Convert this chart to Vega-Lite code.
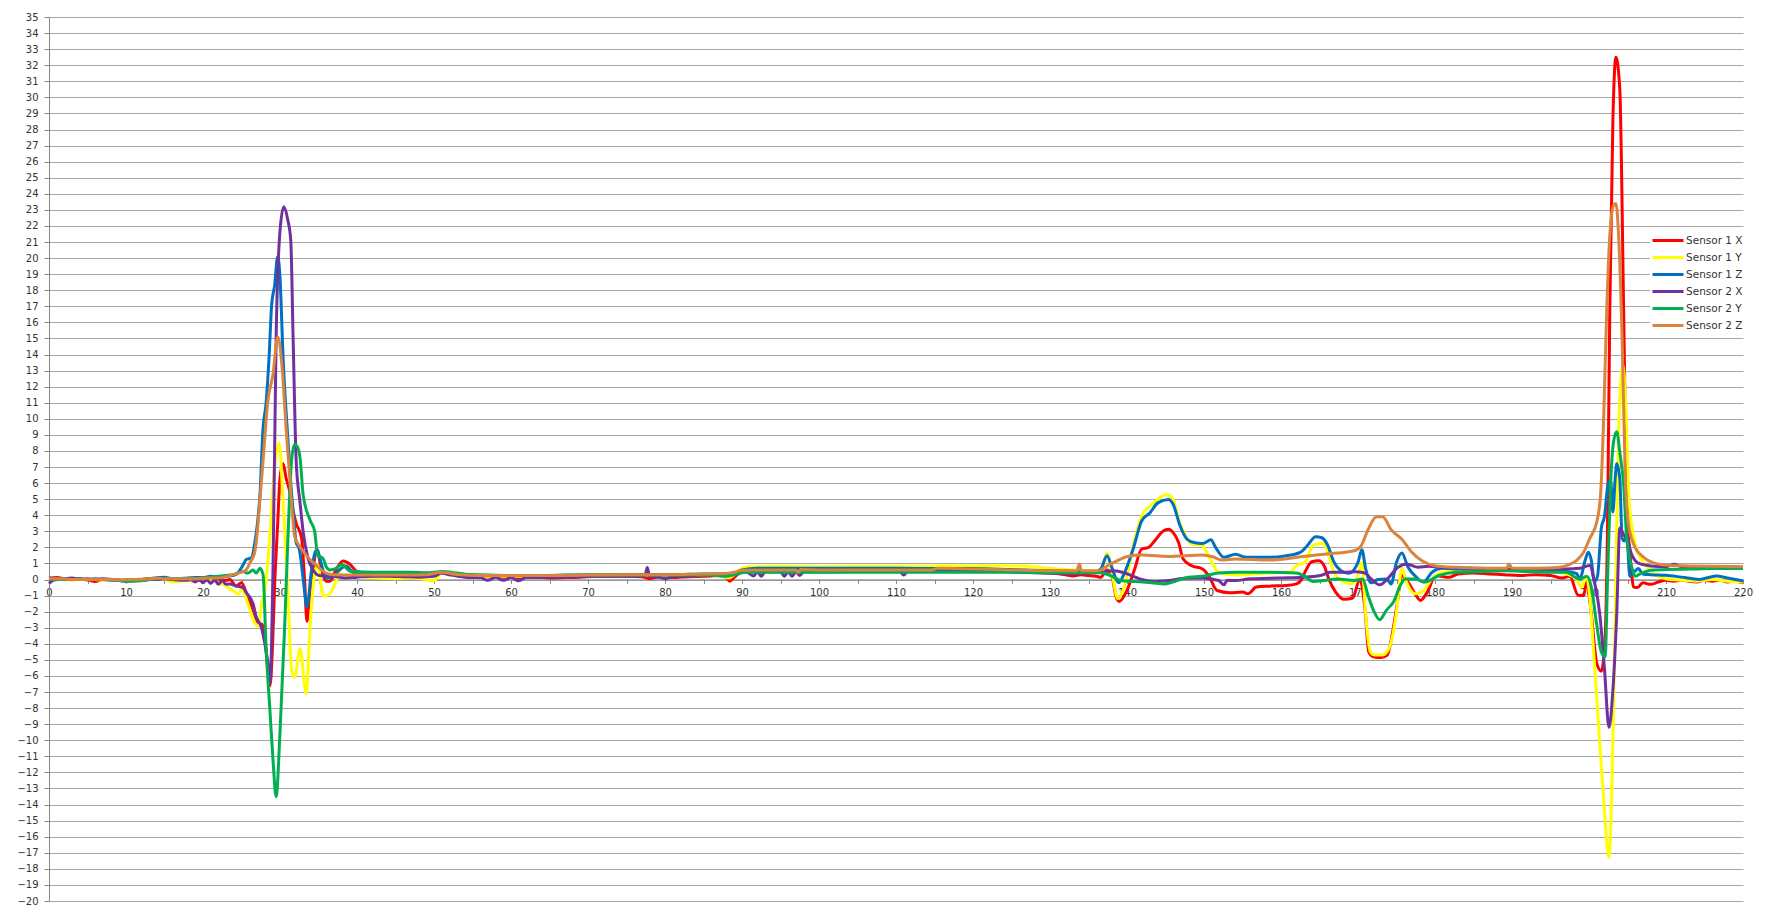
{
  "$schema": "https://vega.github.io/schema/vega-lite/v6.json",
  "width": 1694,
  "height": 884,
  "autosize": {"type": "none"},
  "padding": {"left": 49, "top": 17, "right": 24, "bottom": 9},
  "background": "white",
  "config": {
    "view": {"stroke": null},
    "font": "DejaVu Sans",
    "axis": {
      "labelFont": "DejaVu Sans",
      "labelFontSize": 10,
      "labelColor": "#333333",
      "domainColor": "#868686",
      "tickColor": "#868686",
      "title": null
    }
  },
  "datasets": {
    "s1x": [
      {"t":0,"v":0.08},{"t":1,"v":0.12},{"t":2,"v":0.05},{"t":3,"v":0},{"t":4,"v":0.05},{"t":5,"v":-0.02},{"t":6,"v":-0.12},{"t":7,"v":0.02},{"t":8,"v":0},{"t":9,"v":-0.05},{"t":10,"v":-0.1},{"t":11,"v":-0.05},{"t":12,"v":-0.08},{"t":13,"v":0},{"t":14,"v":0.05},{"t":15,"v":0.05},{"t":16,"v":0},{"t":17,"v":0.03},{"t":18,"v":-0.02},{"t":19,"v":-0.1},{"t":20,"v":0.05},{"t":21,"v":-0.1},{"t":22,"v":-0.05},{"t":23,"v":-0.05},{"t":23.5,"v":0},{"t":24.3,"v":-0.4},{"t":25,"v":-0.2},{"t":25.6,"v":-0.8},{"t":26.5,"v":-1.9},{"t":27.2,"v":-2.7},{"t":27.7,"v":-2.8},{"t":28,"v":-3.5},{"t":28.4,"v":-5.5},{"t":28.7,"v":-6.6},{"t":29,"v":-4.5},{"t":29.3,"v":-0.4},{"t":29.7,"v":3.5},{"t":30,"v":6.3},{"t":30.4,"v":7.2},{"t":30.8,"v":6.3},{"t":31.2,"v":5.6},{"t":31.6,"v":4.5},{"t":32.1,"v":3.5},{"t":32.8,"v":2.6},{"t":33.2,"v":-0.1},{"t":33.5,"v":-2.6},{"t":33.8,"v":-1.2},{"t":34.1,"v":-0.1},{"t":34.8,"v":1.8},{"t":35.4,"v":0.6},{"t":36,"v":-0.1},{"t":36.5,"v":-0.1},{"t":37.3,"v":0.63},{"t":38.2,"v":1.15},{"t":39.1,"v":0.94},{"t":39.9,"v":0.53},{"t":41.2,"v":0.38},{"t":43,"v":0.3},{"t":45,"v":0.25},{"t":47,"v":0.2},{"t":49,"v":0.22},{"t":51,"v":0.4},{"t":53,"v":0.3},{"t":55,"v":0.2},{"t":57,"v":0.18},{"t":59,"v":0.15},{"t":61,"v":0.12},{"t":63,"v":0.15},{"t":65,"v":0.1},{"t":67,"v":0.12},{"t":69,"v":0.15},{"t":71,"v":0.2},{"t":73,"v":0.2},{"t":75,"v":0.2},{"t":77,"v":0.18},{"t":78,"v":0.05},{"t":79,"v":0.15},{"t":81,"v":0.12},{"t":83,"v":0.18},{"t":85,"v":0.2},{"t":87,"v":0.25},{"t":88,"v":0.1},{"t":88.4,"v":-0.1},{"t":88.8,"v":0.05},{"t":89.5,"v":0.35},{"t":90.5,"v":0.5},{"t":93,"v":0.5},{"t":96,"v":0.52},{"t":100,"v":0.55},{"t":104,"v":0.55},{"t":108,"v":0.55},{"t":112,"v":0.56},{"t":116,"v":0.56},{"t":120,"v":0.55},{"t":124,"v":0.52},{"t":128,"v":0.45},{"t":130,"v":0.4},{"t":132,"v":0.3},{"t":133,"v":0.22},{"t":134,"v":0.3},{"t":135,"v":0.25},{"t":136,"v":0.2},{"t":136.6,"v":0.14},{"t":137.4,"v":0.6},{"t":138,"v":0.3},{"t":138.6,"v":-1.1},{"t":139,"v":-1.36},{"t":139.9,"v":-0.78},{"t":141,"v":0.66},{"t":141.9,"v":1.9},{"t":142.8,"v":2},{"t":143.6,"v":2.41},{"t":144.7,"v":3.02},{"t":145.4,"v":3.13},{"t":146,"v":2.92},{"t":146.7,"v":2.3},{"t":147.3,"v":1.28},{"t":148.4,"v":0.86},{"t":149.8,"v":0.66},{"t":150.6,"v":0.25},{"t":151.7,"v":-0.68},{"t":153.3,"v":-0.82},{"t":155,"v":-0.78},{"t":155.7,"v":-0.88},{"t":156.8,"v":-0.47},{"t":158.5,"v":-0.41},{"t":160.7,"v":-0.37},{"t":162,"v":-0.27},{"t":162.7,"v":0.04},{"t":163.1,"v":0.45},{"t":164,"v":1.11},{"t":164.9,"v":1.17},{"t":165.6,"v":0.86},{"t":166.2,"v":0.04},{"t":167.1,"v":-0.78},{"t":168.2,"v":-1.23},{"t":169.3,"v":-1.15},{"t":170.2,"v":-0.06},{"t":170.9,"v":-1.8},{"t":171.4,"v":-4.5},{"t":172,"v":-4.8},{"t":173,"v":-4.85},{"t":173.8,"v":-4.7},{"t":174.3,"v":-3.8},{"t":175,"v":-1.8},{"t":175.7,"v":0.25},{"t":176.5,"v":-0.16},{"t":177.4,"v":-0.88},{"t":178.1,"v":-1.3},{"t":179,"v":-0.78},{"t":180.1,"v":0.25},{"t":181.8,"v":0.14},{"t":183,"v":0.35},{"t":185,"v":0.4},{"t":187,"v":0.35},{"t":189,"v":0.3},{"t":191,"v":0.25},{"t":193,"v":0.3},{"t":195,"v":0.25},{"t":196.5,"v":0.1},{"t":197.5,"v":0.2},{"t":198.6,"v":-0.98},{"t":199.3,"v":-1},{"t":199.7,"v":-0.13},{"t":200.3,"v":-2.15},{"t":201,"v":-5.2},{"t":201.6,"v":-5.7},{"t":202.1,"v":-3.5},{"t":202.4,"v":3.2},{"t":202.7,"v":16.7},{"t":203.1,"v":28.5},{"t":203.5,"v":32.5},{"t":204,"v":30.5},{"t":204.5,"v":16.7},{"t":204.9,"v":4.9},{"t":205.4,"v":1.2},{"t":205.8,"v":-0.47},{"t":206.3,"v":-0.5},{"t":207,"v":-0.2},{"t":208,"v":-0.3},{"t":209,"v":-0.15},{"t":210,"v":-0.05},{"t":211,"v":-0.1},{"t":212,"v":-0.05},{"t":213,"v":-0.1},{"t":214,"v":-0.15},{"t":215,"v":-0.05},{"t":216,"v":-0.1},{"t":217,"v":-0.05},{"t":218,"v":-0.15},{"t":219,"v":-0.1},{"t":220,"v":-0.2}
    ],
    "s1y": [
      {"t":0,"v":0.05},{"t":1,"v":0},{"t":2,"v":0.05},{"t":3,"v":-0.05},{"t":4,"v":0},{"t":5,"v":0.05},{"t":6,"v":0},{"t":7,"v":-0.05},{"t":8,"v":0},{"t":9,"v":0},{"t":10,"v":-0.1},{"t":11,"v":-0.1},{"t":12,"v":-0.05},{"t":13,"v":0.05},{"t":14,"v":0.05},{"t":15,"v":0},{"t":16,"v":-0.15},{"t":17,"v":-0.1},{"t":18,"v":-0.05},{"t":19,"v":0},{"t":20,"v":0.05},{"t":21,"v":-0.05},{"t":22.2,"v":-0.2},{"t":23.9,"v":-0.7},{"t":24.6,"v":-0.9},{"t":25,"v":-0.6},{"t":25.9,"v":-1.6},{"t":26.7,"v":-2.7},{"t":27.2,"v":-2.9},{"t":27.6,"v":-1.5},{"t":28,"v":-0.8},{"t":28.4,"v":1},{"t":28.8,"v":3.5},{"t":29.3,"v":7},{"t":29.9,"v":8.5},{"t":30.4,"v":4.8},{"t":31,"v":-0.4},{"t":31.5,"v":-5.6},{"t":31.9,"v":-6.1},{"t":32.6,"v":-4.3},{"t":33.4,"v":-7.1},{"t":33.9,"v":-3},{"t":34.5,"v":0.4},{"t":34.9,"v":0.9},{"t":35.6,"v":-1},{"t":36.3,"v":-0.95},{"t":37.3,"v":-0.1},{"t":38.2,"v":0.9},{"t":38.6,"v":0.84},{"t":39.5,"v":0.43},{"t":41.2,"v":0.12},{"t":43,"v":0.1},{"t":45,"v":0.05},{"t":47,"v":0.1},{"t":49,"v":0},{"t":49.8,"v":-0.1},{"t":50.5,"v":0.15},{"t":51,"v":0.4},{"t":52,"v":0.3},{"t":54,"v":0.2},{"t":56,"v":0.2},{"t":58,"v":0.2},{"t":60,"v":0.2},{"t":63,"v":0.2},{"t":66,"v":0.22},{"t":70,"v":0.25},{"t":74,"v":0.25},{"t":78,"v":0.25},{"t":82,"v":0.28},{"t":86,"v":0.32},{"t":88.3,"v":0.1},{"t":89,"v":0.3},{"t":90,"v":0.7},{"t":91,"v":0.8},{"t":95,"v":0.82},{"t":100,"v":0.8},{"t":105,"v":0.82},{"t":110,"v":0.82},{"t":115,"v":0.85},{"t":120,"v":0.85},{"t":124,"v":0.86},{"t":128,"v":0.8},{"t":130,"v":0.68},{"t":133,"v":0.6},{"t":135,"v":0.55},{"t":136.6,"v":0.5},{"t":137.4,"v":1.65},{"t":138.1,"v":0.25},{"t":138.8,"v":-1.19},{"t":139.7,"v":-0.37},{"t":140.8,"v":2.1},{"t":141.9,"v":3.95},{"t":143.2,"v":4.67},{"t":144,"v":4.98},{"t":145.1,"v":5.29},{"t":146,"v":4.98},{"t":146.7,"v":3.74},{"t":147.6,"v":2.72},{"t":148.4,"v":2.2},{"t":149.8,"v":2.1},{"t":150.6,"v":1.48},{"t":151.9,"v":0.45},{"t":154.1,"v":0.29},{"t":158.5,"v":0.41},{"t":161.2,"v":0.49},{"t":162,"v":0.86},{"t":163.1,"v":1.07},{"t":164.2,"v":2.14},{"t":165.6,"v":2.26},{"t":166.2,"v":1.48},{"t":166.9,"v":0.45},{"t":167.8,"v":-0.06},{"t":169.1,"v":-0.27},{"t":170,"v":0.25},{"t":170.5,"v":1.07},{"t":171,"v":-2.2},{"t":171.6,"v":-4.5},{"t":172.2,"v":-4.7},{"t":173.2,"v":-4.7},{"t":174,"v":-4.3},{"t":174.5,"v":-3.5},{"t":175,"v":-2},{"t":175.7,"v":0.7},{"t":176.3,"v":-0.16},{"t":177.4,"v":-0.88},{"t":178.3,"v":-0.78},{"t":179.6,"v":0.04},{"t":180.9,"v":0.45},{"t":183,"v":0.55},{"t":186,"v":0.6},{"t":189,"v":0.58},{"t":192,"v":0.55},{"t":195,"v":0.5},{"t":197,"v":0.35},{"t":198.4,"v":0.03},{"t":199,"v":-0.47},{"t":199.7,"v":0.2},{"t":200.1,"v":-1.14},{"t":200.7,"v":-5.2},{"t":201.4,"v":-10.2},{"t":202,"v":-14.3},{"t":202.6,"v":-17.3},{"t":203.1,"v":-10.2},{"t":203.6,"v":3.2},{"t":203.9,"v":10},{"t":204.4,"v":13.3},{"t":204.8,"v":10.6},{"t":205.2,"v":4.9},{"t":206,"v":2.2},{"t":207.1,"v":1.04},{"t":208.4,"v":0.37},{"t":210,"v":0.05},{"t":212,"v":-0.05},{"t":214,"v":-0.1},{"t":216,"v":0},{"t":218,"v":-0.1},{"t":220,"v":-0.15}
    ],
    "s1z": [
      {"t":0,"v":0.1},{"t":1,"v":0.05},{"t":2,"v":0.05},{"t":3,"v":0},{"t":4,"v":0.05},{"t":5,"v":0},{"t":6,"v":0.05},{"t":7,"v":0},{"t":8,"v":-0.05},{"t":9,"v":-0.05},{"t":10,"v":-0.1},{"t":11,"v":-0.05},{"t":12,"v":0},{"t":13,"v":0.05},{"t":14,"v":0.12},{"t":15,"v":0.15},{"t":16,"v":0.05},{"t":17,"v":0.05},{"t":18,"v":0.1},{"t":19,"v":0.12},{"t":20,"v":0.12},{"t":21,"v":0.2},{"t":22,"v":0.15},{"t":23,"v":0.2},{"t":23.9,"v":0.25},{"t":24.5,"v":0.4},{"t":25.2,"v":0.9},{"t":25.6,"v":1.25},{"t":26.3,"v":1.35},{"t":26.7,"v":2.2},{"t":27,"v":3.2},{"t":27.4,"v":5.3},{"t":27.8,"v":9.4},{"t":28.2,"v":11},{"t":28.6,"v":14},{"t":28.9,"v":17},{"t":29.3,"v":18.3},{"t":29.7,"v":20.1},{"t":30,"v":18.8},{"t":30.4,"v":13.8},{"t":31,"v":8.9},{"t":31.4,"v":6},{"t":31.7,"v":4.3},{"t":32.1,"v":2.3},{"t":32.5,"v":1.9},{"t":33,"v":0.1},{"t":33.5,"v":-1.7},{"t":34.1,"v":0.6},{"t":34.8,"v":1.9},{"t":35.4,"v":0.9},{"t":36,"v":0.1},{"t":36.8,"v":0.15},{"t":37.5,"v":0.5},{"t":38.6,"v":0.84},{"t":39.5,"v":0.43},{"t":41,"v":0.35},{"t":43,"v":0.35},{"t":45,"v":0.35},{"t":47,"v":0.35},{"t":49,"v":0.3},{"t":51,"v":0.45},{"t":53,"v":0.35},{"t":55,"v":0.3},{"t":58,"v":0.25},{"t":61,"v":0.25},{"t":64,"v":0.25},{"t":67,"v":0.28},{"t":70,"v":0.3},{"t":73,"v":0.3},{"t":76,"v":0.3},{"t":79,"v":0.3},{"t":82,"v":0.32},{"t":85,"v":0.35},{"t":88,"v":0.35},{"t":89,"v":0.4},{"t":90,"v":0.6},{"t":92,"v":0.7},{"t":96,"v":0.7},{"t":100,"v":0.7},{"t":105,"v":0.7},{"t":110,"v":0.7},{"t":115,"v":0.68},{"t":120,"v":0.68},{"t":125,"v":0.62},{"t":130,"v":0.55},{"t":133,"v":0.5},{"t":135.7,"v":0.45},{"t":136.6,"v":0.66},{"t":137.4,"v":1.48},{"t":138.1,"v":0.66},{"t":138.9,"v":-0.2},{"t":139.7,"v":0.45},{"t":140.8,"v":1.9},{"t":141.9,"v":3.64},{"t":143,"v":4.16},{"t":144,"v":4.77},{"t":145.4,"v":4.98},{"t":146,"v":4.67},{"t":146.9,"v":3.33},{"t":147.8,"v":2.51},{"t":148.7,"v":2.3},{"t":149.8,"v":2.24},{"t":150.9,"v":2.47},{"t":151.5,"v":2},{"t":152.6,"v":1.38},{"t":154.1,"v":1.58},{"t":155.5,"v":1.38},{"t":158.5,"v":1.38},{"t":160.7,"v":1.48},{"t":162.5,"v":1.69},{"t":163.4,"v":2.1},{"t":164.5,"v":2.67},{"t":165.3,"v":2.6},{"t":166,"v":2.2},{"t":166.9,"v":1.07},{"t":167.8,"v":0.55},{"t":168.8,"v":0.39},{"t":170,"v":1.07},{"t":170.5,"v":1.85},{"t":171,"v":0.66},{"t":171.7,"v":-0.2},{"t":172.6,"v":0},{"t":173.7,"v":0.04},{"t":174.3,"v":-0.27},{"t":175,"v":1.07},{"t":175.7,"v":1.65},{"t":176.5,"v":0.76},{"t":177.6,"v":0.14},{"t":178.5,"v":-0.16},{"t":179.6,"v":0.45},{"t":180.9,"v":0.7},{"t":183,"v":0.66},{"t":186,"v":0.62},{"t":189,"v":0.6},{"t":192,"v":0.55},{"t":195,"v":0.55},{"t":197,"v":0.5},{"t":198.4,"v":0.37},{"t":198.8,"v":0.03},{"t":199.5,"v":1.2},{"t":199.9,"v":1.7},{"t":200.3,"v":1.2},{"t":200.7,"v":-0.13},{"t":201.1,"v":0.2},{"t":201.6,"v":3.2},{"t":202,"v":3.9},{"t":202.5,"v":6},{"t":202.8,"v":6.2},{"t":203.1,"v":4.2},{"t":203.4,"v":6.3},{"t":203.6,"v":7.2},{"t":204,"v":6.3},{"t":204.3,"v":2.56},{"t":204.6,"v":2.4},{"t":204.9,"v":2.9},{"t":205.3,"v":0.2},{"t":206,"v":0.54},{"t":206.4,"v":0.68},{"t":207,"v":0.35},{"t":208,"v":0.3},{"t":210,"v":0.26},{"t":212,"v":0.15},{"t":214.3,"v":0.01},{"t":216.5,"v":0.22},{"t":218,"v":0.1},{"t":220,"v":-0.09}
    ],
    "s2x": [
      {"t":0,"v":-0.25},{"t":0.5,"v":-0.05},{"t":1,"v":0},{"t":2,"v":0.05},{"t":3,"v":0.1},{"t":4,"v":0},{"t":5,"v":0.05},{"t":6,"v":0},{"t":7,"v":0.05},{"t":8,"v":0},{"t":9,"v":-0.05},{"t":10,"v":-0.05},{"t":11,"v":-0.05},{"t":12,"v":0},{"t":13,"v":0.05},{"t":14,"v":0},{"t":15,"v":0.05},{"t":16,"v":0},{"t":17,"v":-0.05},{"t":18,"v":-0.05},{"t":18.5,"v":0.05},{"t":19,"v":-0.15},{"t":19.5,"v":0},{"t":20,"v":-0.2},{"t":20.5,"v":0},{"t":21,"v":-0.25},{"t":21.5,"v":0},{"t":22,"v":-0.3},{"t":22.5,"v":-0.05},{"t":23,"v":-0.3},{"t":23.5,"v":-0.27},{"t":24.3,"v":-0.4},{"t":25.2,"v":-0.5},{"t":25.6,"v":-0.8},{"t":26.5,"v":-1.5},{"t":26.9,"v":-2.3},{"t":27.6,"v":-3},{"t":28,"v":-3.9},{"t":28.4,"v":-5.1},{"t":28.7,"v":-6.4},{"t":29.1,"v":0.9},{"t":29.5,"v":15.1},{"t":30,"v":21.7},{"t":30.5,"v":23.2},{"t":31,"v":22.4},{"t":31.4,"v":21.1},{"t":31.7,"v":15.1},{"t":32.1,"v":7.4},{"t":32.6,"v":4.8},{"t":33,"v":3},{"t":33.6,"v":1.4},{"t":34.3,"v":0.6},{"t":35.1,"v":0.25},{"t":37,"v":0.2},{"t":38.5,"v":0.1},{"t":40,"v":0.15},{"t":42,"v":0.2},{"t":44,"v":0.2},{"t":46,"v":0.18},{"t":48,"v":0.15},{"t":50,"v":0.2},{"t":51,"v":0.4},{"t":52,"v":0.3},{"t":54,"v":0.15},{"t":56,"v":0.12},{"t":57,"v":-0.05},{"t":58,"v":0.15},{"t":59,"v":-0.05},{"t":60,"v":0.12},{"t":61,"v":-0.08},{"t":62,"v":0.15},{"t":64,"v":0.12},{"t":66,"v":0.15},{"t":68,"v":0.18},{"t":70,"v":0.2},{"t":72,"v":0.2},{"t":74,"v":0.22},{"t":76,"v":0.2},{"t":77.4,"v":0.25},{"t":77.7,"v":0.75},{"t":78,"v":0.2},{"t":79,"v":0.18},{"t":80,"v":0.05},{"t":81,"v":0.2},{"t":83,"v":0.22},{"t":85,"v":0.3},{"t":87,"v":0.3},{"t":88.5,"v":0.3},{"t":89.5,"v":0.45},{"t":90.5,"v":0.48},{"t":91.5,"v":0.22},{"t":92,"v":0.48},{"t":92.5,"v":0.2},{"t":93,"v":0.48},{"t":95,"v":0.48},{"t":95.5,"v":0.2},{"t":96,"v":0.48},{"t":96.5,"v":0.2},{"t":97,"v":0.48},{"t":97.5,"v":0.25},{"t":98,"v":0.48},{"t":100,"v":0.48},{"t":104,"v":0.5},{"t":108,"v":0.5},{"t":110.5,"v":0.5},{"t":111,"v":0.28},{"t":111.5,"v":0.5},{"t":114,"v":0.5},{"t":116,"v":0.5},{"t":120,"v":0.5},{"t":124,"v":0.5},{"t":126,"v":0.45},{"t":128,"v":0.42},{"t":130,"v":0.4},{"t":133,"v":0.38},{"t":136.6,"v":0.45},{"t":138.3,"v":0.55},{"t":139.7,"v":0.41},{"t":140.6,"v":0.25},{"t":141.9,"v":0},{"t":143.6,"v":-0.12},{"t":145.4,"v":-0.06},{"t":147.6,"v":0.08},{"t":149.8,"v":0.1},{"t":151.9,"v":-0.06},{"t":152.6,"v":-0.33},{"t":153,"v":-0.05},{"t":154.1,"v":-0.06},{"t":156,"v":0.05},{"t":158.5,"v":0.08},{"t":160,"v":0.1},{"t":162.9,"v":0.14},{"t":165.1,"v":0.25},{"t":166.4,"v":0.45},{"t":168.2,"v":0.45},{"t":169.5,"v":0.49},{"t":170.9,"v":0.41},{"t":171.7,"v":0.04},{"t":172.8,"v":-0.33},{"t":173.9,"v":0.08},{"t":175.2,"v":0.76},{"t":176.3,"v":0.97},{"t":177.8,"v":0.76},{"t":179.2,"v":0.82},{"t":180.5,"v":0.76},{"t":184.9,"v":0.7},{"t":189.3,"v":0.66},{"t":192,"v":0.65},{"t":195,"v":0.65},{"t":197,"v":0.65},{"t":198.8,"v":0.7},{"t":200.1,"v":0.88},{"t":200.7,"v":-0.13},{"t":201.4,"v":-2.15},{"t":202,"v":-5.5},{"t":202.6,"v":-9.2},{"t":203.1,"v":-6.9},{"t":203.6,"v":-2.15},{"t":204,"v":3.2},{"t":204.5,"v":2.8},{"t":205,"v":2.5},{"t":205.5,"v":1.6},{"t":206.5,"v":1},{"t":208,"v":0.85},{"t":210,"v":0.8},{"t":211.1,"v":0.95},{"t":212,"v":0.8},{"t":214,"v":0.78},{"t":216,"v":0.78},{"t":218,"v":0.78},{"t":220,"v":0.75}
    ],
    "s2y": [
      {"t":0,"v":0},{"t":1,"v":0.02},{"t":2,"v":0},{"t":3,"v":0},{"t":4,"v":0.02},{"t":5,"v":-0.02},{"t":6,"v":0},{"t":7,"v":0},{"t":8,"v":0.02},{"t":9,"v":-0.05},{"t":10,"v":-0.08},{"t":11,"v":-0.1},{"t":12,"v":-0.05},{"t":13,"v":0},{"t":14,"v":0.05},{"t":15,"v":0.05},{"t":16,"v":0.05},{"t":17,"v":0.05},{"t":18,"v":0.05},{"t":19,"v":0.05},{"t":20,"v":0.1},{"t":21,"v":0.15},{"t":22,"v":0.2},{"t":23,"v":0.25},{"t":23.9,"v":0.3},{"t":25.2,"v":0.5},{"t":25.8,"v":0.4},{"t":26.5,"v":0.6},{"t":26.9,"v":0.4},{"t":27.4,"v":0.7},{"t":27.8,"v":0.3},{"t":28.2,"v":-4.3},{"t":28.7,"v":-8.2},{"t":29.1,"v":-11.3},{"t":29.5,"v":-13.5},{"t":30,"v":-9.5},{"t":30.6,"v":-3},{"t":31,"v":2.2},{"t":31.5,"v":7.4},{"t":31.9,"v":8.4},{"t":32.2,"v":8.3},{"t":32.6,"v":7.6},{"t":33,"v":5.3},{"t":33.9,"v":3.7},{"t":34.5,"v":3},{"t":34.9,"v":1.5},{"t":35.6,"v":1.3},{"t":36,"v":0.8},{"t":36.5,"v":0.6},{"t":37.3,"v":0.7},{"t":38,"v":0.94},{"t":39.1,"v":0.53},{"t":41,"v":0.47},{"t":43,"v":0.45},{"t":45,"v":0.45},{"t":47,"v":0.45},{"t":49,"v":0.42},{"t":51,"v":0.5},{"t":53,"v":0.4},{"t":55,"v":0.3},{"t":57,"v":0.28},{"t":60,"v":0.25},{"t":63,"v":0.25},{"t":66,"v":0.25},{"t":70,"v":0.28},{"t":74,"v":0.28},{"t":78,"v":0.28},{"t":82,"v":0.28},{"t":86,"v":0.28},{"t":88,"v":0.2},{"t":89,"v":0.3},{"t":90.5,"v":0.45},{"t":95,"v":0.45},{"t":100,"v":0.45},{"t":105,"v":0.45},{"t":110,"v":0.45},{"t":115,"v":0.45},{"t":120,"v":0.45},{"t":125,"v":0.45},{"t":130,"v":0.42},{"t":133,"v":0.42},{"t":136.6,"v":0.42},{"t":138.3,"v":0.14},{"t":139.2,"v":-0.06},{"t":141,"v":-0.12},{"t":143.2,"v":-0.2},{"t":144.9,"v":-0.27},{"t":146.2,"v":-0.12},{"t":148,"v":0.14},{"t":149.8,"v":0.2},{"t":151.9,"v":0.41},{"t":154.1,"v":0.45},{"t":158.5,"v":0.45},{"t":162,"v":0.41},{"t":162.9,"v":0.25},{"t":164.2,"v":-0.12},{"t":165.6,"v":-0.06},{"t":167.3,"v":0.04},{"t":169.5,"v":-0.06},{"t":170.6,"v":0.04},{"t":171.3,"v":-0.99},{"t":172,"v":-1.9},{"t":172.8,"v":-2.5},{"t":173.7,"v":-1.9},{"t":174.6,"v":-1.4},{"t":175.5,"v":-0.37},{"t":176.1,"v":0.04},{"t":177.4,"v":0.04},{"t":178.7,"v":-0.16},{"t":180.5,"v":0.25},{"t":182.7,"v":0.45},{"t":186,"v":0.5},{"t":189.3,"v":0.55},{"t":192,"v":0.5},{"t":195,"v":0.45},{"t":197,"v":0.45},{"t":198.8,"v":0.03},{"t":199.7,"v":0.2},{"t":200.3,"v":-0.47},{"t":201,"v":-2.8},{"t":201.6,"v":-4.5},{"t":202.1,"v":-4.8},{"t":202.4,"v":-0.13},{"t":202.8,"v":5.9},{"t":203.2,"v":8.6},{"t":203.6,"v":9.2},{"t":204,"v":7.9},{"t":204.5,"v":5.9},{"t":204.9,"v":2.56},{"t":205.6,"v":0.7},{"t":206,"v":0.2},{"t":206.7,"v":0.37},{"t":208.4,"v":0.6},{"t":210,"v":0.62},{"t":213,"v":0.65},{"t":216,"v":0.68},{"t":220,"v":0.68}
    ],
    "s2z": [
      {"t":0,"v":0.05},{"t":1,"v":0.05},{"t":2,"v":0.05},{"t":3,"v":0},{"t":4,"v":0},{"t":5,"v":0},{"t":6,"v":0},{"t":7,"v":0},{"t":8,"v":0},{"t":9,"v":-0.02},{"t":10,"v":0},{"t":11,"v":0},{"t":12,"v":0.02},{"t":13,"v":0.05},{"t":14,"v":0.08},{"t":15,"v":0.05},{"t":16,"v":0.05},{"t":17,"v":0.05},{"t":18,"v":0.05},{"t":19,"v":0.05},{"t":20,"v":0.08},{"t":21,"v":0.1},{"t":22,"v":0.1},{"t":23,"v":0.18},{"t":23.5,"v":0.25},{"t":24.8,"v":0.43},{"t":25.6,"v":0.6},{"t":26.1,"v":1.05},{"t":26.7,"v":1.67},{"t":27,"v":2.7},{"t":27.4,"v":5},{"t":27.8,"v":7.4},{"t":28.4,"v":11},{"t":29.1,"v":12.8},{"t":29.7,"v":15.1},{"t":30.2,"v":13.6},{"t":30.8,"v":9.4},{"t":31.5,"v":4.8},{"t":31.9,"v":2.7},{"t":32.8,"v":1.9},{"t":33.8,"v":1.3},{"t":34.9,"v":0.8},{"t":36,"v":0.4},{"t":37,"v":0.3},{"t":40,"v":0.28},{"t":43,"v":0.28},{"t":46,"v":0.28},{"t":49,"v":0.3},{"t":51,"v":0.45},{"t":53,"v":0.32},{"t":56,"v":0.25},{"t":60,"v":0.25},{"t":65,"v":0.25},{"t":70,"v":0.28},{"t":75,"v":0.3},{"t":80,"v":0.3},{"t":85,"v":0.35},{"t":88,"v":0.38},{"t":89,"v":0.45},{"t":90,"v":0.58},{"t":95,"v":0.6},{"t":97,"v":0.6},{"t":97.3,"v":0.45},{"t":97.6,"v":0.62},{"t":100,"v":0.6},{"t":105,"v":0.6},{"t":110,"v":0.6},{"t":114.5,"v":0.6},{"t":115.5,"v":0.7},{"t":120,"v":0.65},{"t":125,"v":0.6},{"t":130,"v":0.55},{"t":133.5,"v":0.55},{"t":133.8,"v":0.97},{"t":134.1,"v":0.55},{"t":136.1,"v":0.55},{"t":137.9,"v":0.97},{"t":140.1,"v":1.44},{"t":141.9,"v":1.52},{"t":145.4,"v":1.44},{"t":149.8,"v":1.52},{"t":151.1,"v":1.42},{"t":152.4,"v":1.21},{"t":154.1,"v":1.28},{"t":158.5,"v":1.21},{"t":162.9,"v":1.44},{"t":165.6,"v":1.58},{"t":167.3,"v":1.65},{"t":169.5,"v":1.79},{"t":170.4,"v":2.1},{"t":171.3,"v":3.1},{"t":172.4,"v":3.9},{"t":173.2,"v":3.9},{"t":174.3,"v":3.1},{"t":175.7,"v":2.5},{"t":177,"v":1.69},{"t":178.3,"v":1.17},{"t":180,"v":0.86},{"t":182.7,"v":0.76},{"t":186,"v":0.72},{"t":189.3,"v":0.7},{"t":189.6,"v":0.97},{"t":190,"v":0.72},{"t":193,"v":0.7},{"t":196,"v":0.75},{"t":197.5,"v":0.95},{"t":198.4,"v":1.2},{"t":199.3,"v":1.7},{"t":200.1,"v":2.56},{"t":201,"v":3.57},{"t":201.5,"v":5.25},{"t":201.9,"v":10},{"t":202.3,"v":16.7},{"t":202.7,"v":21.4},{"t":203.2,"v":23.3},{"t":203.5,"v":23.4},{"t":203.8,"v":21.8},{"t":204.3,"v":15},{"t":204.7,"v":6.6},{"t":205.1,"v":3.57},{"t":205.8,"v":2.2},{"t":207.1,"v":1.38},{"t":208.4,"v":1.04},{"t":210.6,"v":0.88},{"t":213,"v":0.85},{"t":216,"v":0.82},{"t":220,"v":0.8}
    ]
  },
  "encoding": {
    "x": {
      "field": "t",
      "type": "quantitative",
      "scale": {"domain": [0, 220], "nice": false, "zero": false},
      "axis": {
        "orient": "bottom",
        "offset": -321.6,
        "values": [0,5,10,15,20,25,30,35,40,45,50,55,60,65,70,75,80,85,90,95,100,105,110,115,120,125,130,135,140,145,150,155,160,165,170,175,180,185,190,195,200,205,210,215,220],
        "labelExpr": "datum.value % 10 === 0 ? datum.label : ''",
        "grid": false,
        "tickSize": 4,
        "labelPadding": 4,
        "labelFlush": false,
        "labelOverlap": false,
        "domainWidth": 1
      }
    },
    "y": {
      "field": "v",
      "type": "quantitative",
      "scale": {"domain": [-20, 35], "nice": false, "zero": false},
      "axis": {
        "values": [-20,-19,-18,-17,-16,-15,-14,-13,-12,-11,-10,-9,-8,-7,-6,-5,-4,-3,-2,-1,0,1,2,3,4,5,6,7,8,9,10,11,12,13,14,15,16,17,18,19,20,21,22,23,24,25,26,27,28,29,30,31,32,33,34,35],
        "grid": true,
        "gridColor": "#a6a6a6",
        "gridWidth": 1,
        "tickSize": 5,
        "labelPadding": 6,
        "labelOverlap": false,
        "labelFlush": false
      }
    },
    "color": {
      "scale": {
        "domain": ["Sensor 1 X", "Sensor 1 Y", "Sensor 1 Z", "Sensor 2 X", "Sensor 2 Y", "Sensor 2 Z"],
        "range": ["#FF0000", "#FFFF00", "#0070C0", "#7030A0", "#00B050", "#DB843D"]
      },
      "legend": {
        "title": null,
        "orient": "none",
        "legendX": 1601,
        "legendY": 214,
        "padding": 1,
        "fillColor": "white",
        "symbolType": "stroke",
        "symbolSize": 961,
        "symbolStrokeWidth": 3,
        "clipHeight": 17,
        "rowPadding": 0,
        "labelFont": "DejaVu Sans",
        "labelFontSize": 10.5,
        "labelColor": "#333333",
        "labelOffset": 1
      }
    }
  },
  "layer": [
    {"data": {"name": "s1x"}, "mark": {"type": "line", "strokeWidth": 3, "interpolate": "monotone", "strokeJoin": "round"}, "encoding": {"color": {"datum": "Sensor 1 X"}}},
    {"data": {"name": "s1y"}, "mark": {"type": "line", "strokeWidth": 3, "interpolate": "monotone", "strokeJoin": "round"}, "encoding": {"color": {"datum": "Sensor 1 Y"}}},
    {"data": {"name": "s1z"}, "mark": {"type": "line", "strokeWidth": 3, "interpolate": "monotone", "strokeJoin": "round"}, "encoding": {"color": {"datum": "Sensor 1 Z"}}},
    {"data": {"name": "s2x"}, "mark": {"type": "line", "strokeWidth": 3, "interpolate": "monotone", "strokeJoin": "round"}, "encoding": {"color": {"datum": "Sensor 2 X"}}},
    {"data": {"name": "s2y"}, "mark": {"type": "line", "strokeWidth": 3, "interpolate": "monotone", "strokeJoin": "round"}, "encoding": {"color": {"datum": "Sensor 2 Y"}}},
    {"data": {"name": "s2z"}, "mark": {"type": "line", "strokeWidth": 3, "interpolate": "monotone", "strokeJoin": "round"}, "encoding": {"color": {"datum": "Sensor 2 Z"}}}
  ]
}
